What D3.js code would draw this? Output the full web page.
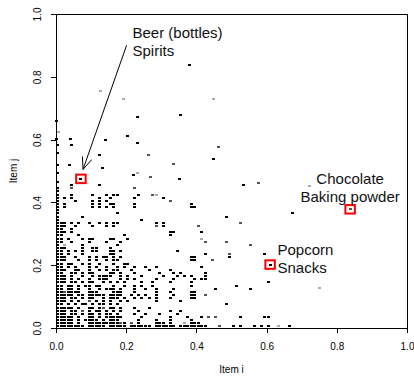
<!DOCTYPE html>
<html>
<head>
<meta charset="utf-8">
<script src="https://cdn.jsdelivr.net/npm/d3@7"></script>
<style>
  body { margin: 0; background: #fff; }
  svg { display: block; }
</style>
</head>
<body>
<svg id="chart"></svg>
<script>
// support grid: row r -> Item j = (r + .5)/100, column k -> Item i = (k + .5)/100
// '#' black, '+' dark grey, '-' light grey, '.' empty (spaces only for reading)
const cellRows = [
  "########.# ####.##### .######.## ####.##### ###...+... #.#...#.#. #..-..#...",
  "#####.#..# ########+# .+.#....## #.#...-.## #",
  "#####.#.## ##.#.###.. ...#....#. ..#.....#.",
  "#####.#..# #.#.#####. ....#..... ..#....#.. .#.+.+.... ..#......# #",
  "###.##.#.# #.#.##.#.. ..#..#...# ....#",
  "###.##.+.# .##.#.#.#. ...#...... ..#..#",
  "#####.#..# #.#+.##.#. ..#...#",
  "##.#.#.##. #.##.#.#.. .......... .......... ........#",
  "###.#.#..+ .#.#.#..#. #.......#. .....#",
  "###.##.#.# #..#.###.# ..#.#.#.#. ..#.....##",
  "#####.##.# ####.####. .#.#.#..#. ...#....## ..+",
  "##+####..# ##....###. ..#.....#. ..#.....##",
  "##.##.#..# ..#.###.#. ..#..#..#. ...#...... .....#.... .....#",
  "##.##.#.## .##...#..# ..#.#..#.. ........#. .......... .#",
  "###.##.#.# #..#.#.#.# ....#..#.. ..#.....#. .......... .......... #",
  "###.#.#..# ..###...#. #.#.....#. ...#.....# .##",
  "###.#..#.. #.####..#. #...#..... #...#.#.#. ..#",
  "##..##.#.# #....##.#. ..#......# ...#.#.... ..#",
  "###..##..# ..#.#.##.. .#....#... ..#",
  "##.#.#...# .#..#..#.# ..#..#..#. .......... .#",
  "##.##..#.# ..#...#..# #",
  "###...#..# .#..#.##.. .......... ........## ....+",
  "###..#...# .#.##.#.#. .......... ........## .........#",
  "##.#...#.. .....##... .......... .......... ..#......+ .........#",
  "##.#.#.#.. ##...##.#. .......... ....#",
  "###....#.. ##...#",
  "#.-....#.. .......#.. .......... .......... .......... .....+",
  "##..#....# ....#...#. .......... .......... ..+.....+",
  "##.#...#.# #....##... #......... .......... .-",
  "##....#... .........# .......... ..#",
  "###.#..... .......... .......... ..##...... .#",
  "##..#",
  "###..#.... #...#.#... ........+. #......... +",
  "###.#.#..# ..#.#.##.. ........#. #......... .......... ..+",
  "#......... .......... ....#",
  "#......#.. .......... .......... .......... ........#",
  "#......... .......#.. .......... .......... .......... .......... .......#",
  "#",
  "#.#....... #.#.#.#... ..#....... ........##",
  "#.#....... #.#..##... ..#....... ........#",
  "#....#.... #.#.#..... .......... ..+",
  "#.#.#..... ..#..#.... ..#....... #",
  "#...#..... #...#.##.. ...#...+-",
  "#",
  "#...+..... .......... ..+",
  "....#..... ..#....... .......... .......... .......... ...#",
  "#"
];

// single pairs outside the grid
const extraI = [0.379, 0.127, 0.191, 0.450, 0.356, 0.231, 0.002, 0.007, 0.002, 0.040,
                0.142, 0.203, 0.005, 0.044, 0.231, 0.462, 0.005, 0.125, 0.263, 0.450,
                0.005, 0.038, 0.132, 0.334, 0.005, 0.220, 0.231, 0.268, 0.351, 0.071,
                0.576, 0.723, 0.752, 0.610, 0.838];
const extraJ = [0.838, 0.756, 0.729, 0.729, 0.678, 0.672, 0.660, 0.625, 0.601, 0.601,
                0.600, 0.612, 0.583, 0.583, 0.590, 0.577, 0.558, 0.552, 0.550, 0.537,
                0.518, 0.518, 0.510, 0.522, 0.494, 0.488, 0.494, 0.480, 0.475, 0.475,
                0.462, 0.453, 0.126, 0.202, 0.378];
const extraShade = ["#", "-", "-", "-", "#", "#", "#", "-", "#", "#",
                    "#", "#", "#", "#", "#", "+", "#", "#", "+", "#",
                    "#", "#", "#", "+", "#", "#", "-", "+", "#", "#",
                    "+", "-", "-", "#", "+"];

const tickValues = [0, 0.2, 0.4, 0.6, 0.8, 1.0];

const highlightI = [0.071, 0.610, 0.838];
const highlightJ = [0.475, 0.202, 0.378];
const highlightLabels = [["Beer (bottles)", "Spirits"], ["Popcorn", "Snacks"], ["Chocolate", "Baking powder"]];
const labelI = [0.218, 0.631, 0.838];
const labelJ = [0.925, 0.2325, 0.460];
const labelAnchor = ["start", "start", "middle"];
const arrowFrom = [0.201, 0.900];
const arrowTo = [0.077, 0.505];

const width = 414, height = 376;
const font = "'Liberation Sans', Arial, Helvetica, sans-serif";
const shadeColor = {"#": "#000", "+": "#555", "-": "#aaa"};

const svg = d3.select("#chart").attr("width", width).attr("height", height)
    .style("background-color", "white");

const x = d3.scaleLinear().domain([0, 1]).range([56, 407]);
const y = d3.scaleLinear().domain([0, 1]).range([328, 14]);

const cells = [];
cellRows.forEach(function (row, r) {
    row.replace(/ /g, "").split("").forEach(function (c, k) {
        if (c !== ".") cells.push({i: (k + 0.5) / 100, j: (r + 0.5) / 100, shade: c});
    });
});
extraI.forEach(function (v, k) {
    cells.push({i: v, j: extraJ[k], shade: extraShade[k]});
});

svg.append("g").selectAll("rect").data(cells).enter().append("rect")
    .attr("x", d => Math.round(x(d.i) - 1.5))
    .attr("y", d => Math.round(y(d.j) - 1))
    .attr("width", 3)
    .attr("height", 2)
    .attr("fill", d => shadeColor[d.shade]);

// frame
svg.append("rect")
    .attr("x", x(0)).attr("y", y(1))
    .attr("width", x(1) - x(0)).attr("height", y(0) - y(1))
    .attr("fill", "none").attr("stroke", "#000").attr("stroke-width", 1)
    .attr("shape-rendering", "crispEdges");

var xAxis = d3.axisBottom(x).tickValues(tickValues).tickFormat(d3.format(".1f"))
    .tickSize(5).tickSizeOuter(0);
var gx = svg.append("g").attr("transform", "translate(0," + y(0) + ")").call(xAxis);
gx.attr("font-family", font).attr("font-size", 10);
gx.select(".domain").remove();
gx.selectAll("line").attr("stroke", "#000").attr("shape-rendering", "crispEdges");
gx.selectAll("text").attr("y", 22).attr("dy", 0).attr("fill", "#000");

var yAxis = d3.axisLeft(y).tickValues(tickValues).tickFormat(d3.format(".1f"))
    .tickSize(5).tickSizeOuter(0);
var gy = svg.append("g").attr("transform", "translate(" + x(0) + ",0)").call(yAxis);
gy.attr("font-family", font).attr("font-size", 10);
gy.select(".domain").remove();
gy.selectAll("line").attr("stroke", "#000").attr("shape-rendering", "crispEdges");
gy.selectAll("text")
    .attr("transform", "rotate(-90)")
    .attr("x", 0).attr("y", -15).attr("dy", 0)
    .attr("text-anchor", "middle").attr("fill", "#000");

svg.append("text")
    .attr("x", (x(0) + x(1)) / 2).attr("y", 373)
    .attr("text-anchor", "middle")
    .style("font-family", font).style("font-size", "10px")
    .text("Item i");
svg.append("text")
    .attr("transform", "translate(17," + (y(0) + y(1)) / 2 + ") rotate(-90)")
    .attr("text-anchor", "middle")
    .style("font-family", font).style("font-size", "10px")
    .text("Item j");

// highlighted pairs
svg.append("g").selectAll("rect").data(highlightI).enter().append("rect")
    .attr("x", (d, k) => x(d) - 4.75)
    .attr("y", (d, k) => y(highlightJ[k]) - 4.25)
    .attr("width", 9.5).attr("height", 8.5)
    .attr("fill", "none").attr("stroke", "#f00").attr("stroke-width", 2);

var labels = svg.append("g").selectAll("text").data(highlightLabels).enter().append("text")
    .attr("x", (d, k) => x(labelI[k]))
    .attr("y", (d, k) => y(labelJ[k]))
    .attr("text-anchor", (d, k) => labelAnchor[k])
    .style("font-family", font).style("font-size", "15px").attr("fill", "#111");
labels.selectAll("tspan").data(d => d).enter().append("tspan")
    .attr("x", function () { return this.parentNode.getAttribute("x"); })
    .attr("dy", (d, k) => k === 0 ? 0 : 18)
    .text(d => d);

// arrow
var x0 = x(arrowFrom[0]), y0 = y(arrowFrom[1]), x1 = x(arrowTo[0]), y1 = y(arrowTo[1]);
var ang = Math.atan2(y0 - y1, x0 - x1), headLen = 13, headAng = 22 * Math.PI / 180;
var arrow = svg.append("g").attr("stroke", "#000").attr("stroke-width", 1).attr("fill", "none");
arrow.append("line").attr("x1", x0).attr("y1", y0).attr("x2", x1).attr("y2", y1);
[-1, 1].forEach(function (s) {
    arrow.append("line")
        .attr("x1", x1).attr("y1", y1)
        .attr("x2", x1 + headLen * Math.cos(ang + s * headAng))
        .attr("y2", y1 + headLen * Math.sin(ang + s * headAng));
});
</script>
</body>
</html>
